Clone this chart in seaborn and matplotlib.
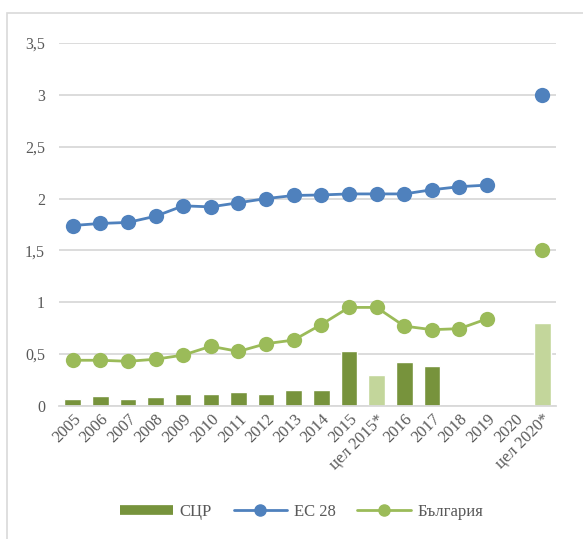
import numpy as np
import pandas as pd
import matplotlib
matplotlib.use("Agg")
import matplotlib.pyplot as plt
from matplotlib.lines import Line2D
from matplotlib.patches import Rectangle
import seaborn as sns

# Data
categories = ["2005", "2006", "2007", "2008", "2009", "2010", "2011", "2012",
              "2013", "2014", "2015", "цел 2015*", "2016", "2017", "2018",
              "2019", "2020", "цел 2020*"]
sczr = [0.07, 0.10, 0.07, 0.09, 0.115, 0.115, 0.13, 0.11, 0.15, 0.15,
        0.525, 0.30, 0.42, 0.38, 0, 0, 0, 0.795]
eu28 = [1.74, 1.76, 1.77, 1.83, 1.93, 1.92, 1.96, 2.00, 2.03, 2.035,
        2.045, 2.045, 2.045, 2.085, 2.115, 2.13, np.nan, 3.0]
bulgaria = [0.44, 0.44, 0.43, 0.45, 0.49, 0.575, 0.525, 0.60, 0.635, 0.785,
            0.95, 0.95, 0.77, 0.735, 0.745, 0.84, np.nan, 1.5]
is_target = [c.startswith("цел") for c in categories]

dark_green = "#77933C"
light_green = "#C3D69B"
blue = "#4F81BD"
green = "#9BBB59"
text_col = "#595959"
grid_col = "#D9D9D9"

df = pd.DataFrame({"cat": categories, "sczr": sczr, "eu": eu28, "bg": bulgaria})
df["pos"] = np.arange(len(df))
# the 2020 target point is drawn on its own, not joined to the line
df["seg"] = [1 if c == "цел 2020*" else 0 for c in categories]

sns.set_style("white")
plt.rcParams["font.family"] = ["Liberation Serif", "DejaVu Serif"]

fig = plt.figure(figsize=(5.83, 5.39), dpi=100)
ax = fig.add_axes([0.101, 0.247, 0.853, 0.673])

bar_colors = [light_green if t else dark_green for t in is_target]
sns.barplot(data=df, x="cat", y="sczr", hue="cat", palette=bar_colors,
            legend=False, width=0.6, saturation=1, ax=ax, zorder=2)

for col, color in [("eu", blue), ("bg", green)]:
    sns.lineplot(data=df.dropna(subset=[col]), x="pos", y=col, units="seg",
                 estimator=None, color=color, lw=2.0, marker="o",
                 markersize=11, markeredgewidth=0, ax=ax, zorder=3,
                 clip_on=False)

ax.set_ylim(0, 3.5)
ax.set_xlim(-0.5, len(categories) - 0.5)
ax.set_yticks(np.arange(0, 3.51, 0.5))
ax.set_yticklabels([("%g" % v).replace(".", ",") for v in np.arange(0, 3.51, 0.5)])
ax.set_xticks(df["pos"])
ax.set_xticklabels(categories, rotation=45, ha="right", rotation_mode="anchor")
ax.tick_params(axis="both", length=0, colors=text_col)
ax.tick_params(axis="x", pad=4, labelsize=12)
ax.tick_params(axis="y", pad=10, labelsize=11.5)
ax.yaxis.grid(True, color=grid_col, lw=1.3)
ax.set_axisbelow(True)
for side in ["top", "right", "left"]:
    ax.spines[side].set_visible(False)
ax.spines["bottom"].set_color(grid_col)
ax.spines["bottom"].set_linewidth(1.3)
ax.set_xlabel("")
ax.set_ylabel("")

handles = [
    Line2D([], [], color=dark_green, lw=7, solid_capstyle="butt"),
    Line2D([], [], color=blue, lw=2, marker="o", markersize=8),
    Line2D([], [], color=green, lw=2, marker="o", markersize=8),
]
fig.legend(handles, ["СЦР", "ЕС 28", "България"], loc="center",
           bbox_to_anchor=(0.517, 0.05), ncol=3, frameon=False,
           fontsize=12, labelcolor=text_col, handlelength=3.2,
           columnspacing=1.3, handletextpad=0.4)

# light frame around the chart area
fig.patches.append(Rectangle((0.012, -0.01), 1.1, 0.985, transform=fig.transFigure,
                             fill=False, edgecolor=grid_col, lw=1.2))

fig.savefig("out.png", dpi=100)
